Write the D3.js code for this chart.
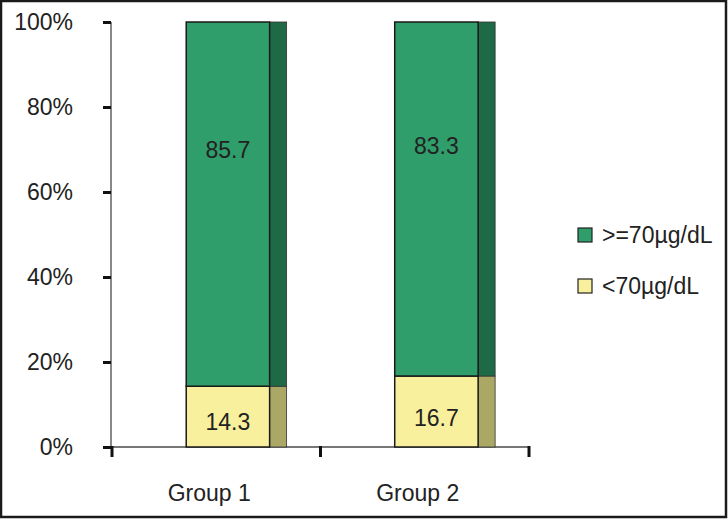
<!DOCTYPE html>
<html>
<head>
<meta charset="utf-8">
<script src="https://cdn.jsdelivr.net/npm/d3@7"></script>
<style>
  body { margin: 0; background: #fff; }
  text { font-family: "Liberation Sans", Arial, sans-serif; fill: #222; }
</style>
</head>
<body>
<script>
var groups = ["Group 1", "Group 2"];
var series = [">=70µg/dL", "<70µg/dL"];
var low = [14.3, 16.7];     // <70µg/dL
var high = [85.7, 83.3];    // >=70µg/dL
var yTicks = [0, 20, 40, 60, 80, 100];

var width = 728, height = 519;

var svg = d3.select("body").append("svg")
    .attr("width", width)
    .attr("height", height);

// frame
svg.append("rect")
    .attr("x", 1).attr("y", 1)
    .attr("width", width - 3).attr("height", height - 3)
    .attr("fill", "none").attr("stroke", "#1a1a1a").attr("stroke-width", 2.5);

var x = d3.scaleBand().domain(groups).range([112, 529]);
var y = d3.scaleLinear().domain([0, 100]).range([447, 22]);

var bw = x.bandwidth();
var frontW = bw * 0.4;
var depth = 17;

function frontX(d) { return x(d.g) + bw * 0.556 - frontW / 2; }

// y axis
svg.append("line")
    .attr("x1", 111).attr("x2", 111)
    .attr("y1", y(100)).attr("y2", y(0))
    .attr("stroke", "#888").attr("stroke-width", 2);

var yAxis = svg.append("g")
    .attr("transform", "translate(111,0)")
    .call(d3.axisLeft(y).tickValues(yTicks).tickSize(8).tickPadding(30)
        .tickFormat(function(d) { return d + "%"; }));
yAxis.select(".domain").remove();
yAxis.selectAll(".tick line").attr("stroke", "#111").attr("stroke-width", 3);
yAxis.selectAll(".tick text")
    .style("font-size", "23px")
    .attr("fill", "#222");

// x axis
svg.append("line")
    .attr("x1", 111).attr("x2", 529)
    .attr("y1", y(0)).attr("y2", y(0))
    .attr("stroke", "#777").attr("stroke-width", 2);

var xTickPos = groups.map(function(g) { return x(g); }).concat([x(groups[1]) + bw]);
svg.selectAll(".xtick")
    .data(xTickPos)
    .enter().append("line")
    .attr("x1", function(d) { return d; })
    .attr("x2", function(d) { return d; })
    .attr("y1", y(0) - 1).attr("y2", y(0) + 10)
    .attr("stroke", "#111").attr("stroke-width", 3);

svg.selectAll(".xlabel")
    .data(groups)
    .enter().append("text")
    .attr("x", function(d) { return x(d) + bw / 2 - 7; })
    .attr("y", 501)
    .attr("text-anchor", "middle")
    .style("font-size", "23px")
    .text(function(d) { return d; });

// stacked segments
var segs = [];
groups.forEach(function(g, i) {
    segs.push({ g: g, s: 1, y0: 0, y1: low[i], v: low[i], lf: 0.41 });
    segs.push({ g: g, s: 0, y0: low[i], y1: low[i] + high[i], v: high[i], lf: 0.65 });
});

var front = ["#2f9e6b", "#f8f09c"];
var side = ["#1f6a46", "#aba866"];

var bars = svg.selectAll(".seg")
    .data(segs)
    .enter().append("g");

// side face (depth)
bars.append("rect")
    .attr("x", function(d) { return frontX(d) + frontW; })
    .attr("y", function(d) { return y(d.y1); })
    .attr("width", depth)
    .attr("height", function(d) { return y(d.y0) - y(d.y1); })
    .attr("fill", function(d) { return side[d.s]; })
    .attr("stroke", "#333").attr("stroke-width", 0.8);

// front face
bars.append("rect")
    .attr("x", frontX)
    .attr("y", function(d) { return y(d.y1); })
    .attr("width", frontW)
    .attr("height", function(d) { return y(d.y0) - y(d.y1); })
    .attr("fill", function(d) { return front[d.s]; })
    .attr("stroke", "#1a1a1a").attr("stroke-width", 1.5);

bars.append("text")
    .attr("x", function(d) { return frontX(d) + frontW / 2; })
    .attr("y", function(d) { return y(d.y0 + d.v * d.lf); })
    .attr("dy", "0.36em")
    .attr("text-anchor", "middle")
    .style("font-size", "23px")
    .text(function(d) { return d.v; });

// legend
var legend = svg.selectAll(".legend")
    .data(series)
    .enter().append("g")
    .attr("transform", function(d, i) { return "translate(578," + (228 + i * 51) + ")"; });

legend.append("rect")
    .attr("width", 14).attr("height", 14)
    .attr("fill", function(d, i) { return front[i]; })
    .attr("stroke", "#222").attr("stroke-width", 1.2);

legend.append("text")
    .attr("x", 24).attr("y", 7)
    .attr("dy", "0.36em")
    .style("font-size", "23px")
    .text(function(d) { return d; });
</script>
</body>
</html>
